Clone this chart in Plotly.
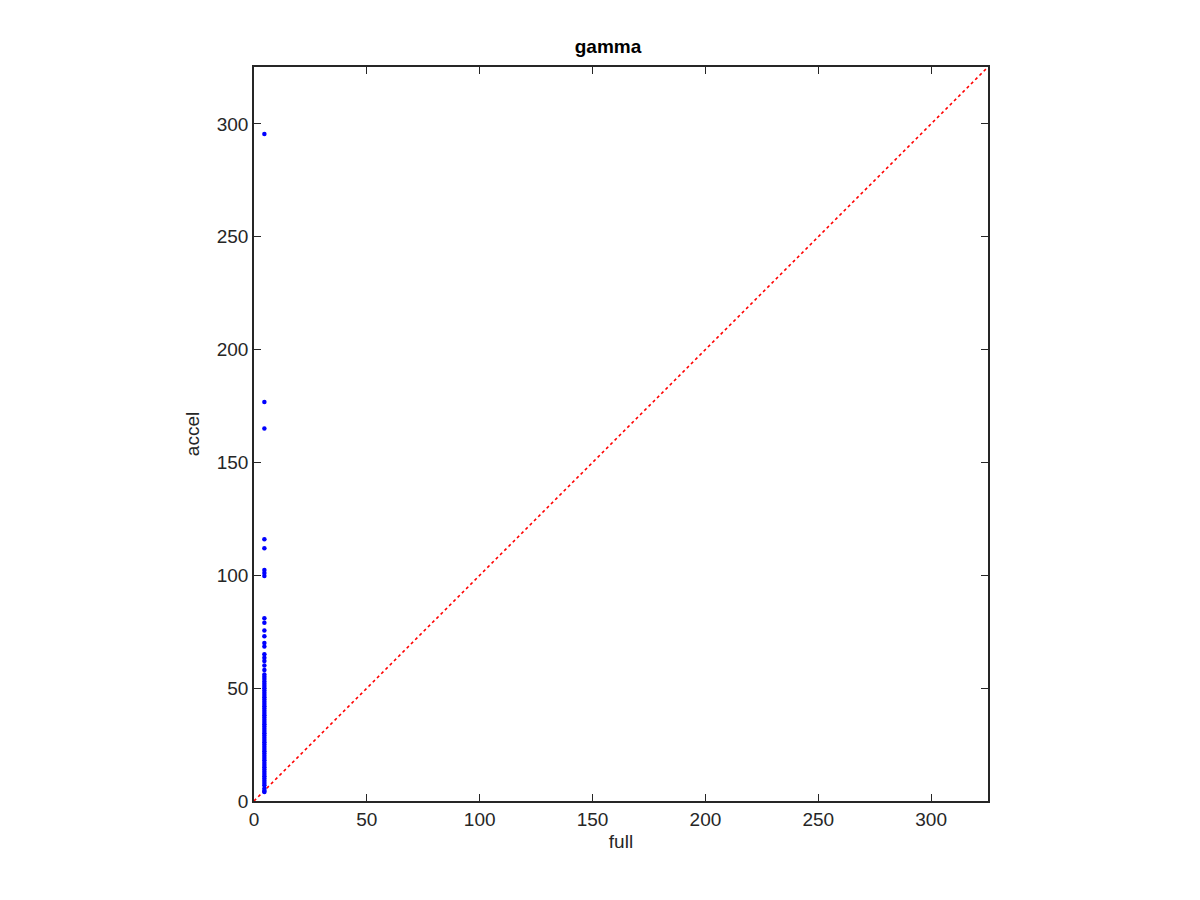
import plotly.graph_objects as go

# Data
accel_values = [295.5, 176.8, 165.0, 116.0, 112.0, 102.3, 101.0, 99.7,
                81.0, 79.0, 75.5, 73.0, 70.0, 68.5, 65.0, 63.5, 62.0, 60.0, 58.0,
                56.0, 55.0, 54.0, 53.0, 52.0, 51.0, 50.0, 49.0, 48.0, 47.0, 46.0,
                45.0, 44.0, 43.0, 42.0, 41.0, 40.0, 39.0, 38.0, 37.0, 36.0, 35.0,
                34.0, 33.0, 32.0, 31.0, 30.0, 29.0, 28.0, 27.0, 26.0, 25.0, 24.0,
                23.0, 22.0, 21.0, 20.0, 19.0, 18.0, 17.0, 16.0, 15.0, 14.0,
                13.0, 12.0, 11.0, 10.0, 9.0, 8.0, 7.0, 5.5, 4.5, 4.0]
full_value = 4.6
full_values = [full_value] * len(accel_values)
diag = [0, 325.2]
axis_range = [0, 325.2]
tick_vals = [0, 50, 100, 150, 200, 250, 300]

fig = go.Figure()
fig.add_trace(go.Scatter(x=diag, y=diag, mode="lines",
                         line=dict(color="#ff0000", width=1.6, dash="dot"),
                         showlegend=False, hoverinfo="skip"))
fig.add_trace(go.Scatter(x=full_values, y=accel_values, mode="markers",
                         marker=dict(color="#0000ff", size=4.5),
                         showlegend=False))

font_family = "Liberation Sans, Arial, Helvetica"
axis_common = dict(range=axis_range, tickvals=tick_vals, ticks="inside", ticklen=7,
                   tickwidth=1.3, tickcolor="#262626", showline=True, linecolor="#262626",
                   linewidth=1.5, mirror="ticks", showgrid=False, zeroline=False,
                   tickfont=dict(family=font_family, size=19, color="#262626"))

fig.update_layout(
    width=1200, height=900,
    paper_bgcolor="white", plot_bgcolor="white",
    margin=dict(l=246, r=220, t=59, b=107),
    title=dict(text="<b>gamma</b>", x=0.5, xanchor="center", y=0.957, yanchor="middle",
               font=dict(family=font_family, size=19, color="black")),
    xaxis=dict(title=dict(text="full", font=dict(family=font_family, size=19, color="#262626"),
                          standoff=6), **axis_common),
    yaxis=dict(title=dict(text="accel", font=dict(family=font_family, size=19, color="#262626"),
                          standoff=12), **axis_common),
)

fig.write_html("out.html")
